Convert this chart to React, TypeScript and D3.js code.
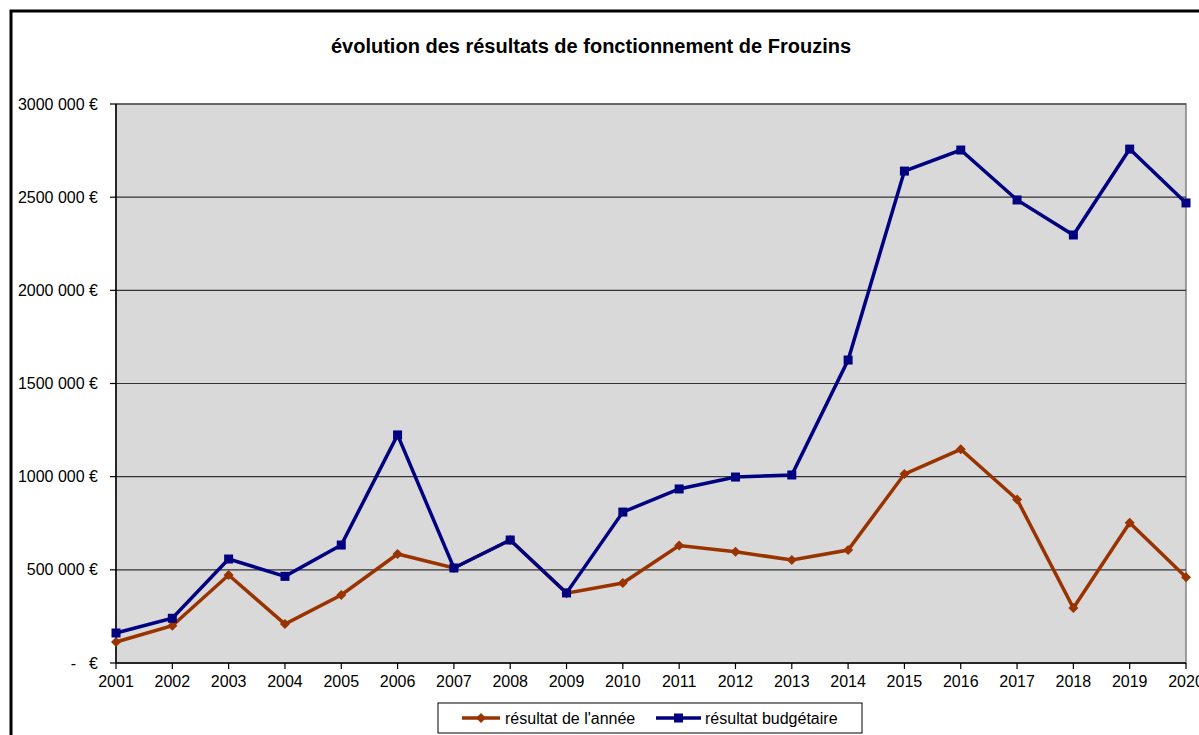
import React from "react";
import * as d3 from "d3";

const years = [2001,2002,2003,2004,2005,2006,2007,2008,2009,2010,2011,2012,2013,2014,2015,2016,2017,2018,2019,2020];
const resultatAnnee = [113000,200000,472000,209000,365000,585000,510000,660000,375000,429000,630000,597000,553000,606000,1014000,1147000,878000,295000,753000,460000];
const resultatBudgetaire = [161000,240000,558000,465000,633000,1224000,510000,660000,376000,810000,934000,998000,1009000,1626000,2640000,2753000,2485000,2297000,2758000,2469000];
const yTicks = [0,500000,1000000,1500000,2000000,2500000,3000000];
const yTickLabels = ["€","500 000 €","1000 000 €","1500 000 €","2000 000 €","2500 000 €","3000 000 €"];
const title = "évolution des résultats de fonctionnement de Frouzins";
const seriesNames = ["résultat de l'année","résultat budgétaire"];

const W = 1199, H = 735;
const left = 116, right = 1186, top = 104, bottom = 663;
const orange = "#993300";
const navy = "#000080";
const font = "'Liberation Sans', Arial, sans-serif";

export default function App() {
  const x = d3.scaleLinear().domain([years[0], years[years.length-1]]).range([left, right]);
  const y = d3.scaleLinear().domain([0, 3000000]).range([bottom, top]);
  const line = d3.line<number>().x((_, i) => x(years[i])).y(d => y(d));
  const diamond = (cx: number, cy: number, r: number) => `M${cx},${cy-r}L${cx+r},${cy}L${cx},${cy+r}L${cx-r},${cy}Z`;
  return (
    <svg width={W} height={H} style={{position:"absolute", left:0, top:0, background:"#fff"}} fontFamily={font}>
      <rect x={0} y={0} width={W} height={H} fill="#fff" />
      <rect x={11} y={11} width={W+20} height={H+20} fill="none" stroke="#000" strokeWidth={3} />
      <text x={591} y={53} textAnchor="middle" fontSize={20} fontWeight="bold" fill="#000">{title}</text>
      <rect x={left} y={top} width={right-left} height={bottom-top} fill="#d9d9d9" stroke="#808080" strokeWidth={1.5} />
      {yTicks.slice(1).map(t => (
        <line key={t} x1={left} x2={right} y1={y(t)} y2={y(t)} stroke="#333" strokeWidth={1.2} />
      ))}
      <line x1={left} x2={left} y1={top} y2={bottom} stroke="#000" strokeWidth={1.5} />
      <line x1={left} x2={right} y1={bottom} y2={bottom} stroke="#000" strokeWidth={1.5} />
      {yTicks.map((t, i) => (
        <g key={t}>
          <line x1={left-6} x2={left} y1={y(t)} y2={y(t)} stroke="#000" strokeWidth={1.2} />
          <text x={98} y={y(t)+5.5} textAnchor="end" fontSize={16} fill="#000">{yTickLabels[i]}</text>
          {t === 0 && <text x={76} y={y(t)+5.5} textAnchor="end" fontSize={16} fill="#000">-</text>}
        </g>
      ))}
      {years.map(yr => (
        <g key={yr}>
          <line x1={x(yr)} x2={x(yr)} y1={bottom} y2={bottom+6} stroke="#000" strokeWidth={1.2} />
          <text x={x(yr)} y={bottom+24} textAnchor="middle" fontSize={16} fill="#000">{yr}</text>
        </g>
      ))}
      <path d={line(resultatAnnee) || ""} fill="none" stroke={orange} strokeWidth={3.5} />
      {resultatAnnee.map((v, i) => (
        <path key={i} d={diamond(x(years[i]), y(v), 5)} fill={orange} />
      ))}
      <path d={line(resultatBudgetaire) || ""} fill="none" stroke={navy} strokeWidth={3.5} />
      {resultatBudgetaire.map((v, i) => (
        <rect key={i} x={x(years[i])-4.5} y={y(v)-4.5} width={9} height={9} fill={navy} />
      ))}
      <rect x={438} y={703} width={424} height={30} fill="#fff" stroke="#000" strokeWidth={1} />
      <line x1={462} x2={500} y1={718} y2={718} stroke={orange} strokeWidth={3.5} />
      <path d={diamond(481, 718, 5)} fill={orange} />
      <text x={505} y={723.5} fontSize={16} fill="#000">{seriesNames[0]}</text>
      <line x1={656} x2={701} y1={718} y2={718} stroke={navy} strokeWidth={3.5} />
      <rect x={674} y={713.5} width={9} height={9} fill={navy} />
      <text x={705} y={723.5} fontSize={16} fill="#000">{seriesNames[1]}</text>
    </svg>
  );
}
